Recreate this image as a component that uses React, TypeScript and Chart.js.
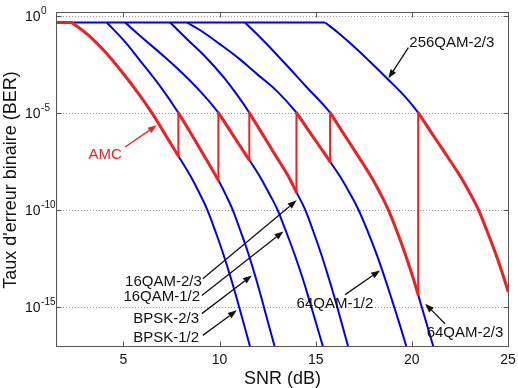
import { useEffect, useRef } from "react";
import { Chart, registerables } from "chart.js";

Chart.register(...registerables);

// Axis ranges: SNR in dB, BER as log10
const SNR_MIN = 1.55;
const SNR_MAX = 25;
const LOG_BER_MIN = -17.08;
const LOG_BER_MAX = 0.14;
const LOG_BER_SAT = -0.35; // saturated BER before each curve starts to fall

const X_TICKS = [5, 10, 15, 20, 25];
const Y_TICK_EXP = [0, -5, -10, -15];

// BER curves: SNR (dB) and log10(BER) along each curve
const BPSK_12_SNR = [2.32, 3.18, 4.05, 4.92, 5.78, 6.48, 7.1, 7.86, 8.47, 8.98, 9.34, 9.78, 10.2, 10.58, 10.93, 11.28, 11.6, 11.78];
const BPSK_12_LOG = [-0.35, -1.0, -1.86, -2.89, -4.0, -5.0, -6.0, -7.23, -8.23, -9.2, -9.95, -11.1, -12.3, -13.5, -14.7, -15.95, -17.1, -17.75];

const BPSK_23_SNR = [4.14, 5.0, 5.9, 6.9, 7.86, 8.47, 9.13, 9.94, 10.31, 10.66, 11.09, 11.51, 11.88, 12.22, 12.56, 12.88, 13.05];
const BPSK_23_LOG = [-0.35, -1.25, -2.35, -3.62, -5.0, -6.0, -7.1, -8.48, -9.2, -9.95, -11.1, -12.3, -13.5, -14.7, -15.95, -17.1, -17.75];

const QAM16_12_SNR = [5.09, 6.0, 7.0, 8.0, 9.0, 9.94, 10.6, 11.32, 11.55, 12.06, 12.6, 12.99, 13.45, 13.9, 14.31, 14.68, 15.05, 15.39, 15.58];
const QAM16_12_LOG = [-0.35, -1.15, -2.0, -2.9, -3.9, -5.0, -6.0, -7.1, -7.44, -8.23, -9.2, -9.95, -11.1, -12.3, -13.5, -14.7, -15.95, -17.1, -17.75];

const QAM16_23_SNR = [7.43, 8.3, 9.2, 10.2, 11.0, 11.55, 12.17, 12.85, 13.55, 14.0, 14.43, 14.87, 15.29, 15.67, 16.03, 16.38, 16.7, 16.88];
const QAM16_23_LOG = [-0.35, -1.2, -2.05, -3.15, -4.2, -5.0, -6.0, -7.1, -8.23, -9.1, -9.95, -11.1, -12.3, -13.5, -14.7, -15.95, -17.1, -17.75];

const QAM64_12_SNR = [8.31, 9.0, 10.0, 11.0, 12.0, 13.0, 14.0, 14.69, 15.46, 15.75, 16.23, 16.8, 17.2, 17.7, 18.17, 18.59, 18.98, 19.38, 19.73, 19.94];
const QAM64_12_LOG = [-0.35, -0.75, -1.45, -2.2, -3.05, -3.9, -5.0, -6.0, -7.1, -7.53, -8.23, -9.2, -9.95, -11.1, -12.3, -13.5, -14.7, -15.95, -17.1, -17.75];

const QAM64_23_SNR = [11.32, 12.2, 13.3, 14.5, 15.75, 16.4, 17.12, 17.84, 18.38, 18.75, 19.22, 19.66, 20.06, 20.33, 20.42, 20.79, 21.13, 21.32];
const QAM64_23_LOG = [-0.35, -1.2, -2.35, -3.65, -5.0, -6.0, -7.1, -8.23, -9.2, -9.95, -11.1, -12.3, -13.5, -14.39, -14.7, -15.95, -17.1, -17.75];

const QAM256_23_SNR = [15.49, 16.2, 16.89, 17.8, 18.78, 19.6, 20.33, 21.0, 21.74, 22.49, 23.05, 23.44, 23.91, 24.37, 24.78, 25.0];
const QAM256_23_LOG = [-0.35, -0.9, -1.5, -2.35, -3.3, -4.12, -5.0, -6.0, -7.1, -8.23, -9.2, -9.95, -11.1, -12.3, -13.5, -14.19];

const MODE_SNR = [BPSK_12_SNR, BPSK_23_SNR, QAM16_12_SNR, QAM16_23_SNR, QAM64_12_SNR, QAM64_23_SNR, QAM256_23_SNR];
const MODE_LOG = [BPSK_12_LOG, BPSK_23_LOG, QAM16_12_LOG, QAM16_23_LOG, QAM64_12_LOG, QAM64_23_LOG, QAM256_23_LOG];

// AMC moves up one mode when the next mode reaches the 1e-5 target
const AMC_TARGET_LOG = -5;
const AMC_SWITCH_SNR = [7.86, 9.94, 11.55, 14.0, 15.75, 20.33];

// Curve labels with arrows (positions in SNR / log10 BER)
type Note = {
  text: string;
  color: string;
  align: CanvasTextAlign;
  textSnr: number;
  textLog: number;
  tailSnr: number;
  tailLog: number;
  tipSnr: number;
  tipLog: number;
};
const NOTES: Note[] = [
  { text: "256QAM-2/3", color: "#111", align: "left", textSnr: 19.87, textLog: -1.38, tailSnr: 19.82, tailLog: -1.65, tipSnr: 18.78, tipLog: -3.23 },
  { text: "AMC", color: "#ee2222", align: "right", textSnr: 4.92, textLog: -7.15, tailSnr: 5.09, tailLog: -6.77, tipSnr: 6.74, tipLog: -5.65 },
  { text: "16QAM-2/3", color: "#111", align: "right", textSnr: 9.08, textLog: -13.7, tailSnr: 9.13, tailLog: -13.56, tipSnr: 14.01, tipLog: -9.52 },
  { text: "16QAM-1/2", color: "#111", align: "right", textSnr: 8.99, textLog: -14.52, tailSnr: 9.08, tailLog: -14.42, tipSnr: 13.32, tipLog: -11.12 },
  { text: "BPSK-2/3", color: "#111", align: "right", textSnr: 8.94, textLog: -15.65, tailSnr: 9.08, tailLog: -15.36, tipSnr: 11.68, tipLog: -13.39 },
  { text: "BPSK-1/2", color: "#111", align: "right", textSnr: 8.94, textLog: -16.61, tailSnr: 9.13, tailLog: -16.48, tipSnr: 10.9, tipLog: -15.19 },
  { text: "64QAM-1/2", color: "#111", align: "center", textSnr: 16.0, textLog: -14.88, tailSnr: 16.53, tailLog: -14.38, tipSnr: 18.35, tipLog: -13.13 },
  { text: "64QAM-2/3", color: "#111", align: "left", textSnr: 20.77, textLog: -16.35, tailSnr: 21.73, tailLog: -15.88, tipSnr: 20.69, tipLog: -14.85 },
];

const BLUE = "#0000f0";
const RED = "#ee2222";
const FONT = '"Liberation Sans", Arial, sans-serif';
const TENSION = 0.4;

type Pt = { x: number; y: number | null };
const toPts = (snr: number[], lg: number[]): Pt[] => snr.map((s, i) => ({ x: s, y: 10 ** lg[i] }));
const logAt = (k: number, s: number) => MODE_LOG[k][MODE_SNR[k].indexOf(s)];

function buildDatasets() {
  const sets: any[] = [];
  // saturated region shared by all modes
  const satEnd = Math.max(...MODE_SNR.map((s) => s[0]));
  sets.push({
    data: [{ x: 1.5, y: 10 ** LOG_BER_SAT }, { x: satEnd, y: 10 ** LOG_BER_SAT }],
    borderColor: BLUE, borderWidth: 2, tension: 0, order: 2,
  });
  MODE_SNR.forEach((snr, k) => {
    sets.push({
      data: toPts(snr, MODE_LOG[k]),
      borderColor: BLUE, borderWidth: 2, tension: TENSION, order: 2,
    });
  });
  // AMC envelope: follow each mode between switching points
  sets.push({
    data: [{ x: 1.5, y: 10 ** LOG_BER_SAT }, { x: BPSK_12_SNR[0], y: 10 ** LOG_BER_SAT }],
    borderColor: RED, borderWidth: 3, tension: 0, order: 0,
  });
  const bounds = [BPSK_12_SNR[0], ...AMC_SWITCH_SNR, SNR_MAX];
  MODE_SNR.forEach((snr, k) => {
    const lo = bounds[k];
    const hi = bounds[k + 1];
    const pts: Pt[] = [];
    snr.forEach((s, i) => {
      if (s >= lo - 1e-9 && s <= hi + 1e-9) pts.push({ x: s, y: 10 ** MODE_LOG[k][i] });
    });
    sets.push({
      data: pts, borderColor: RED, borderWidth: 3, tension: TENSION, order: 0,
      borderCapStyle: "round",
    });
  });
  const jumps: Pt[] = [];
  AMC_SWITCH_SNR.forEach((s, k) => {
    jumps.push({ x: s, y: 10 ** logAt(k, s) });
    jumps.push({ x: s, y: 10 ** AMC_TARGET_LOG });
    jumps.push({ x: s, y: null });
  });
  sets.push({ data: jumps, borderColor: RED, borderWidth: 2, tension: 0, order: 0, spanGaps: false });
  return sets.map((d) => ({ pointRadius: 0, fill: false, clip: 0, ...d }));
}

function drawArrow(ctx: CanvasRenderingContext2D, x1: number, y1: number, x2: number, y2: number, color: string) {
  const ang = Math.atan2(y2 - y1, x2 - x1);
  const head = 9;
  const half = 3.3;
  const bx = x2 - head * Math.cos(ang);
  const by = y2 - head * Math.sin(ang);
  ctx.strokeStyle = color;
  ctx.fillStyle = color;
  ctx.lineWidth = 1.3;
  ctx.setLineDash([]);
  ctx.beginPath();
  ctx.moveTo(x1, y1);
  ctx.lineTo(bx, by);
  ctx.stroke();
  ctx.beginPath();
  ctx.moveTo(x2, y2);
  ctx.lineTo(bx + half * Math.sin(ang), by - half * Math.cos(ang));
  ctx.lineTo(bx - half * Math.sin(ang), by + half * Math.cos(ang));
  ctx.closePath();
  ctx.fill();
}

const axesPlugin = {
  id: "berAxes",
  beforeDatasetsDraw(chart: any) {
    const { ctx, chartArea: a, scales } = chart;
    const y = scales.y;
    ctx.save();
    ctx.strokeStyle = "#999";
    ctx.lineWidth = 1;
    ctx.setLineDash([1, 2]);
    Y_TICK_EXP.forEach((e) => {
      const py = Math.round(y.getPixelForValue(10 ** e)) + 0.5;
      ctx.beginPath();
      ctx.moveTo(a.left, py);
      ctx.lineTo(a.right, py);
      ctx.stroke();
    });
    ctx.restore();
  },
  afterDatasetsDraw(chart: any) {
    const { ctx, chartArea: a, scales } = chart;
    const x = scales.x;
    const y = scales.y;
    ctx.save();
    // box and inward ticks
    ctx.strokeStyle = "#555";
    ctx.lineWidth = 1;
    ctx.setLineDash([]);
    const L = a.left - 0.5;
    const R = a.right + 0.5;
    const T = a.top - 0.5;
    const B = a.bottom - 0.5;
    ctx.strokeRect(L, T, R - L, B - T);
    ctx.beginPath();
    X_TICKS.forEach((v) => {
      const px = Math.round(x.getPixelForValue(v)) + 0.5;
      ctx.moveTo(px, B);
      ctx.lineTo(px, B - 5);
      ctx.moveTo(px, T);
      ctx.lineTo(px, T + 5);
    });
    Y_TICK_EXP.forEach((e) => {
      const py = Math.round(y.getPixelForValue(10 ** e)) + 0.5;
      ctx.moveTo(L, py);
      ctx.lineTo(L + 5, py);
      ctx.moveTo(R, py);
      ctx.lineTo(R - 5, py);
    });
    ctx.stroke();

    // tick labels
    ctx.fillStyle = "#111";
    ctx.textBaseline = "alphabetic";
    ctx.font = `14px ${FONT}`;
    ctx.textAlign = "center";
    X_TICKS.forEach((v) => {
      ctx.fillText(String(v), x.getPixelForValue(v), a.bottom + 16.5);
    });
    Y_TICK_EXP.forEach((e) => {
      const py = y.getPixelForValue(10 ** e);
      ctx.font = `14px ${FONT}`;
      ctx.textAlign = "left";
      const bx = a.left - 32;
      ctx.fillText("10", bx, py + 5);
      const w = ctx.measureText("10").width;
      ctx.font = `10px ${FONT}`;
      ctx.fillText(String(e), bx + w + 0.5, py - 1.5);
    });

    // axis titles
    ctx.font = `18px ${FONT}`;
    ctx.textAlign = "center";
    ctx.fillText("SNR (dB)", (a.left + a.right) / 2, a.bottom + 36.5);
    ctx.save();
    ctx.translate(15.5, (a.top + a.bottom) / 2);
    ctx.rotate(-Math.PI / 2);
    ctx.fillText("Taux d'erreur binaire (BER)", 0, 0);
    ctx.restore();

    // curve labels
    NOTES.forEach((n) => {
      drawArrow(
        ctx,
        x.getPixelForValue(n.tailSnr), y.getPixelForValue(10 ** n.tailLog),
        x.getPixelForValue(n.tipSnr), y.getPixelForValue(10 ** n.tipLog),
        n.color
      );
      ctx.font = `15px ${FONT}`;
      ctx.fillStyle = n.color;
      ctx.textAlign = n.align;
      ctx.textBaseline = "middle";
      ctx.fillText(n.text, x.getPixelForValue(n.textSnr), y.getPixelForValue(10 ** n.textLog));
    });
    ctx.restore();
  },
};

export default function App() {
  const ref = useRef<HTMLCanvasElement>(null);
  useEffect(() => {
    if (!ref.current) return;
    const chart = new Chart(ref.current, {
      type: "line",
      data: { datasets: buildDatasets() },
      options: {
        animation: false,
        responsive: false,
        devicePixelRatio: 1,
        events: [],
        layout: { padding: { left: 57, top: 13, right: 10, bottom: 41 } },
        plugins: { legend: { display: false }, tooltip: { enabled: false } },
        scales: {
          x: { type: "linear", min: SNR_MIN, max: SNR_MAX, display: false },
          y: { type: "logarithmic", min: 10 ** LOG_BER_MIN, max: 10 ** LOG_BER_MAX, display: false },
        },
      },
      plugins: [axesPlugin],
    } as any);
    return () => chart.destroy();
  }, []);
  return (
    <div style={{ position: "absolute", left: 0, top: 0, width: 518, height: 388, background: "#fff" }}>
      <canvas ref={ref} width={518} height={388} />
    </div>
  );
}
